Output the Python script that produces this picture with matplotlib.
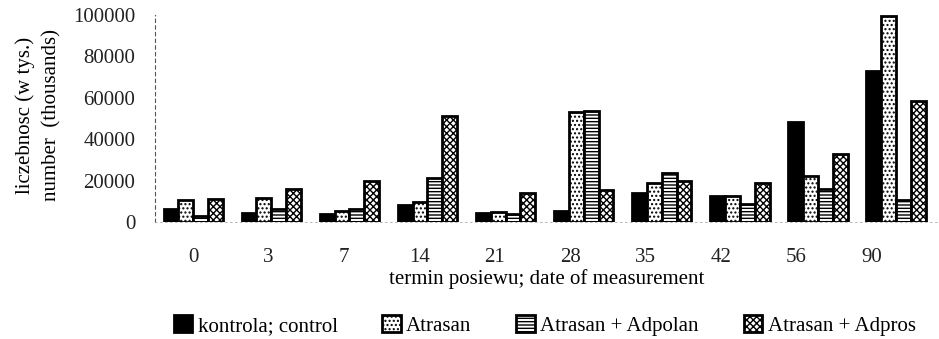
import matplotlib
matplotlib.use("agg")
import matplotlib.pyplot as plt
import numpy as np

# data
days = ["0", "3", "7", "14", "21", "28", "35", "42", "56", "90"]
kontrola = [6300, 4300, 3800, 8200, 4300, 5300, 14000, 12600, 48300, 72900]
atrasan = [10600, 11600, 5300, 9700, 4800, 53100, 18800, 12600, 22200, 99500]
adpolan = [2900, 6300, 6300, 21300, 3800, 53600, 23700, 8700, 15900, 10600]
adpros = [11300, 15900, 19800, 51200, 14000, 15500, 19800, 18800, 32800, 58500]

series = [
    ("kontrola; control", kontrola, "black", ""),
    ("Atrasan", atrasan, "white", "...."),
    ("Atrasan + Adpolan", adpolan, "white", "-----"),
    ("Atrasan + Adpros", adpros, "white", "xxxxx"),
]

plt.rcParams["font.family"] = "Liberation Serif"
plt.rcParams["hatch.linewidth"] = 1.0

fig = plt.figure(figsize=(9.39, 3.39), dpi=100)
ax = fig.add_axes([0.165, 0.345, 0.835, 0.611])

x = np.arange(len(days))
width = 0.19
for i, (name, vals, fc, hatch) in enumerate(series):
    ax.bar(x + (i - 1.5) * width, vals, width, color=fc, edgecolor="black",
           linewidth=2.0, hatch=hatch, label=name)

ax.set_xlim(-0.49, 9.55)
ax.set_ylim(0, 100000)
ax.set_yticks(np.arange(0, 100001, 20000))
# the scanned labels drift slightly left of their groups
ax.set_xticks(x * 0.965)
ax.set_xticklabels(days)
ax.tick_params(axis="both", length=0, labelsize=15, colors="#222222")
ax.tick_params(axis="y", pad=14)
ax.tick_params(axis="x", pad=19)

for s in ["top", "right"]:
    ax.spines[s].set_visible(False)
ax.spines["left"].set_linestyle((0, (3, 3)))
ax.spines["left"].set_color("#555555")
ax.spines["left"].set_linewidth(0.8)
ax.spines["bottom"].set_linestyle((0, (2, 4)))
ax.spines["bottom"].set_color("#aaaaaa")
ax.spines["bottom"].set_linewidth(0.6)

ax.set_xlabel("termin posiewu; date of measurement", fontsize=15, labelpad=1)
fig.text(0.016, 0.66, "liczebnosc (w tys.)", rotation=90, fontsize=15,
         ha="left", va="center")
fig.text(0.045, 0.66, "number  (thousands)", rotation=90, fontsize=15,
         ha="left", va="center")

ax.legend(loc="center", bbox_to_anchor=(0.58, 0.04), bbox_transform=fig.transFigure,
          ncol=4, frameon=False, fontsize=15, handlelength=0.9, handleheight=0.9,
          handletextpad=0.25, columnspacing=2.15)

fig.savefig("out.png", dpi=100)
